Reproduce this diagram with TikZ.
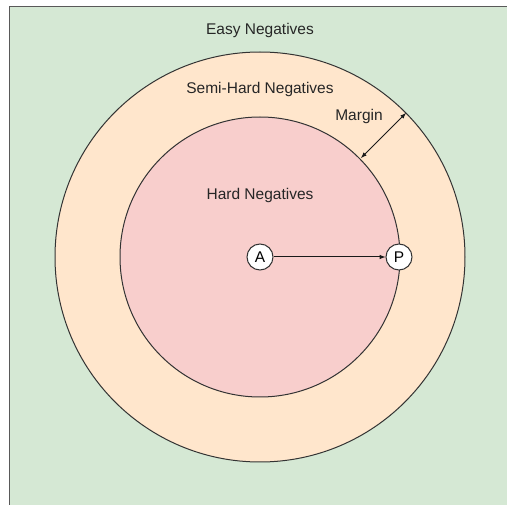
\documentclass[tikz,border=0pt]{standalone}
\usepackage{fontspec}
\setmainfont{Liberation Sans}
\begin{document}
\begin{tikzpicture}[x=1pt,y=-1pt,
  lbl/.style={font=\fontsize{15.5}{18}\selectfont, text=black!85, inner sep=0pt},
  zone/.style={draw=black!80, line width=1pt},
  pt/.style={circle, draw=black!80, fill=white, line width=1pt, minimum size=26pt, inner sep=0pt, font=\fontsize{15.5}{18}\selectfont},
  arr/.style={-latex, line width=1pt, black!90}]
\useasboundingbox (0,0) rectangle (507,505);
\clip (0,0) rectangle (507,505);
\filldraw[zone, fill={rgb,255:red,213;green,232;blue,212}, draw=black!65] (9.5,6.5) rectangle (530,530);
\filldraw[zone, fill={rgb,255:red,255;green,230;blue,204}] (260,257) circle (205);
\filldraw[zone, fill={rgb,255:red,248;green,206;blue,204}] (260,257) circle (140);
\node[lbl] (easy) at (260,30) {Easy Negatives};
\node[lbl] (semi) at (260,89) {Semi-Hard Negatives};
\node[lbl] (hard) at (260,195) {Hard Negatives};
\node[lbl] (margin) at (359,116) {Margin};
\node[pt] (A) at (260,257) {A};
\node[pt] (P) at (399,257) {P};
\draw[arr] (A) -- (P);
\coordinate (m1) at (361,158);
\coordinate (m2) at (406,113);
\draw[arr, latex-latex] (m1) -- (m2);
\end{tikzpicture}
\end{document}
